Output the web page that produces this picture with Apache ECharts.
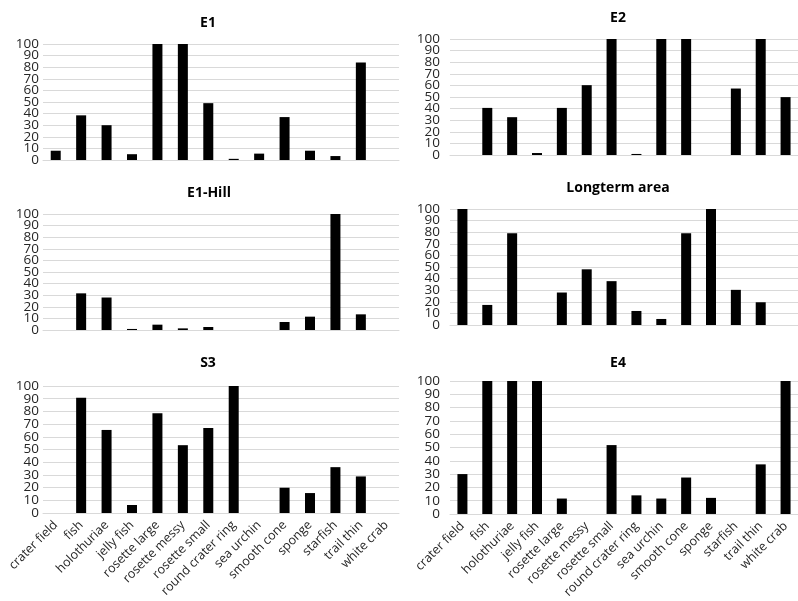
<!DOCTYPE html>
<html>
<head>
<meta charset="utf-8">
<script src="https://cdn.jsdelivr.net/npm/echarts@6/dist/echarts.min.js"></script>
<style>html,body{margin:0;padding:0;background:#fff;}#c{width:798px;height:601px;}</style>
</head>
<body>
<div id="c"></div>
<script>
const categories = ['crater field','fish','holothuriae','jelly fish','rosette large','rosette messy','rosette small','round crater ring','sea urchin','smooth cone','sponge','starfish','trail thin','white crab'];
const yTicks = [0,10,20,30,40,50,60,70,80,90,100];
const titles = ['E1','E1-Hill','S3','E2','Longterm area','E4'];
const valuesE1 = [8,38.5,30,5,100,100,49,1,5.5,37,8,3.4,84,0];
const valuesE1Hill = [0,31.6,28,0.9,4.6,1.4,2.6,0,0,6.9,11.5,100,13.5,0];
const valuesS3 = [0,90.8,65.4,6.3,78.5,53.4,67,100,0,19.9,15.7,36.1,28.8,0];
const valuesE2 = [0,40.6,32.6,1.7,40.6,60.2,100,0.9,100,100,0,57.3,100,49.9];
const valuesLongterm = [100,17.3,79,0,28,48,37.8,12.1,5.2,79,100,30.3,19.6,0];
const valuesE4 = [30,100,100,100,11.6,0,51.8,14,11.6,27.4,12.1,0,37.3,100];

const allValues = [valuesE1, valuesE1Hill, valuesS3, valuesE2, valuesLongterm, valuesE4];

const layouts = [
  {left:43, top:44, height:116, tx:203, ty:11, labels:false, lm:4},
  {left:43, top:214, height:116, tx:204, ty:181, labels:false, lm:4},
  {left:43, top:386, height:127, tx:203, ty:351, labels:true, lm:4},
  {left:450, top:39, height:116, tx:613, ty:6, labels:false, lm:10},
  {left:450, top:209, height:116, tx:613, ty:176, labels:false, lm:10},
  {left:450, top:381, height:137, tx:613, ty:351, labels:true, lm:10}
];

const evenTicks = yTicks.filter((v, k) => k % 2 === 0);
const oddTicks = yTicks.filter((v, k) => k % 2 === 1);

const FONT = 'Open Sans';
const grids = [], xAxes = [], yAxes = [], series = [], titleArr = [];
layouts.forEach((L, i) => {
  grids.push({left:L.left, top:L.top, width:356, height:L.height, containLabel:false});
  titleArr.push({text:titles[i], left:L.tx, top:L.ty, textAlign:'center',
    textStyle:{fontFamily:FONT, fontWeight:'bold', fontSize:14, color:'#000'}});
  xAxes.push({type:'category', gridIndex:i, data:categories,
    axisLine:{show:true, lineStyle:{color:'#d9d9d9', width:1}},
    axisTick:{show:false},
    axisLabel:{show:L.labels, rotate:45, interval:0, margin:10, hideOverlap:false, fontFamily:FONT, fontSize:12.5, color:'#262626'}});
  const base = {type:'value', gridIndex:i, position:'left', min:yTicks[0], max:yTicks[yTicks.length-1], interval:yTicks[1]-yTicks[0],
    axisLine:{show:false}, axisTick:{show:false}};
  const lab = {margin:L.lm, showMinLabel:true, showMaxLabel:true, hideOverlap:false, fontFamily:FONT, fontSize:13.5, color:'#262626'};
  const aIdx = yAxes.length;
  yAxes.push(Object.assign({}, base, {
    splitLine:{show:true, lineStyle:{color:'#d9d9d9', width:1}},
    axisLabel:Object.assign({}, lab, {customValues:evenTicks})}));
  yAxes.push(Object.assign({}, base, {
    splitLine:{show:false},
    axisLabel:Object.assign({}, lab, {customValues:oddTicks})}));
  series.push({type:'bar', xAxisIndex:i, yAxisIndex:aIdx, data:allValues[i], barWidth:10,
    itemStyle:{color:'#000'}, animation:false});
});

const chart = echarts.init(document.getElementById('c'), null, {renderer:'canvas'});
chart.setOption({animation:false, backgroundColor:'#fff', title:titleArr, grid:grids, xAxis:xAxes, yAxis:yAxes, series:series});
</script>
</body>
</html>
